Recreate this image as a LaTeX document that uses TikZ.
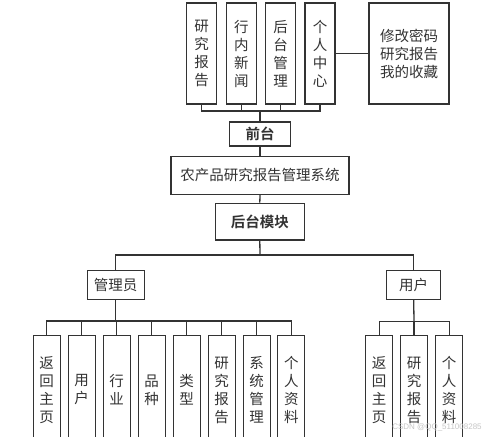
\documentclass[tikz,border=0pt]{standalone}
\usepackage{fontspec}
\newfontfamily\cjk{Noto Sans CJK SC}
\newfontfamily\cjkb{Noto Sans CJK SC Bold}
\setmainfont{Liberation Sans}
\definecolor{ink}{HTML}{333333}
\tikzset{
  box/.style={draw=ink, line width=1.3pt, fill=white, text=ink, inner sep=0pt, align=center,
    font=\cjk\fontsize{14.5}{18}\selectfont},
  vbox/.style={box, minimum width=30pt, minimum height=101pt},
  sbox/.style={box, minimum width=27pt, minimum height=109.5pt},
  wire/.style={draw=ink, line width=1.3pt},
}
\begin{document}
\begin{tikzpicture}[x=1pt,y=-1pt]
\useasboundingbox (0,0) rectangle (499,437);
\clip (0,0) rectangle (499,437);
\fill[white] (0,0) rectangle (499,437);
% top row
\node[vbox] (t1) at (201.7,53.5) {研\\究\\报\\告};
\node[vbox] (t2) at (241.3,53.5) {行\\内\\新\\闻};
\node[vbox] (t3) at (280.7,53.5) {后\\台\\管\\理};
\node[vbox] (t4) at (320,53.5) {个\\人\\中\\心};
\node[box, minimum width=80pt, minimum height=101pt] (pc) at (409,53.5) {修改密码\\研究报告\\我的收藏};
% middle
\node[box, minimum width=61pt, minimum height=24pt, font=\cjkb\fontsize{14.5}{18}\selectfont] (qt) at (260,134) {前台};
\node[box, minimum width=178pt, minimum height=37.6pt] (sys) at (260,175.5) {农产品研究报告管理系统};
\node[box, minimum width=89pt, minimum height=36.7pt, font=\cjkb\fontsize{14.5}{18}\selectfont] (hm) at (259.8,221.7) {后台模块};
\node[box, minimum width=57pt, minimum height=28.6pt] (adm) at (115.7,285) {管理员};
\node[box, minimum width=54pt, minimum height=28.6pt] (usr) at (413.7,285) {用户};
% admin leaves
\node[sbox] (a1) at (46.7,390) {返\\回\\主\\页};
\node[sbox] (a2) at (81.7,390) {用\\户};
\node[sbox] (a3) at (116.7,390) {行\\业};
\node[sbox] (a4) at (151.7,390) {品\\种};
\node[sbox] (a5) at (186.7,390) {类\\型};
\node[sbox] (a6) at (221.7,390) {研\\究\\报\\告};
\node[sbox] (a7) at (256.7,390) {系\\统\\管\\理};
\node[sbox] (a8) at (291.3,390) {个\\人\\资\\料};
% user leaves
\node[sbox] (u1) at (379.2,390) {返\\回\\主\\页};
\node[sbox] (u2) at (414,390) {研\\究\\报\\告};
\node[sbox] (u3) at (449.2,390) {个\\人\\资\\料};
% bus coordinates
\coordinate (topbus) at (260,111);
\coordinate (mainbus) at (260,255);
\coordinate (abus) at (115.7,321);
\coordinate (ubus) at (414,321.5);
% connectors
\draw[wire] (t4.east) -- (t4.east -| pc.west);
\draw[wire] (t1.south) |- (topbus) -| (t4.south);
\draw[wire] (t2.south) -- (t2.south |- topbus);
\draw[wire] (t3.south) -- (t3.south |- topbus);
\draw[wire] (topbus) -- (qt.north);
\draw[wire] (qt.south) -- (sys.north);
\draw[wire] (sys.south) -- (hm.north);
\draw[wire] (hm.south) -- (mainbus);
\draw[wire] (adm.north) |- (mainbus) -| (usr.north);
\draw[wire] (adm.south) -- (abus);
\draw[wire] (a1.north) |- (abus) -| (a8.north);
\foreach \n in {a2,a3,a4,a5,a6,a7} \draw[wire] (\n.north) -- (\n.north |- abus);
\draw[wire] (usr.south) -- (ubus);
\draw[wire] (u1.north) |- (ubus) -| (u3.north);
\draw[wire] (u2.north) -- (ubus);
% watermark
\node[text=gray!45, font=\fontsize{8}{9}\selectfont, inner sep=0pt] (wm) at (437,427) {CSDN @QQ\_511008285};
\end{tikzpicture}
\end{document}
